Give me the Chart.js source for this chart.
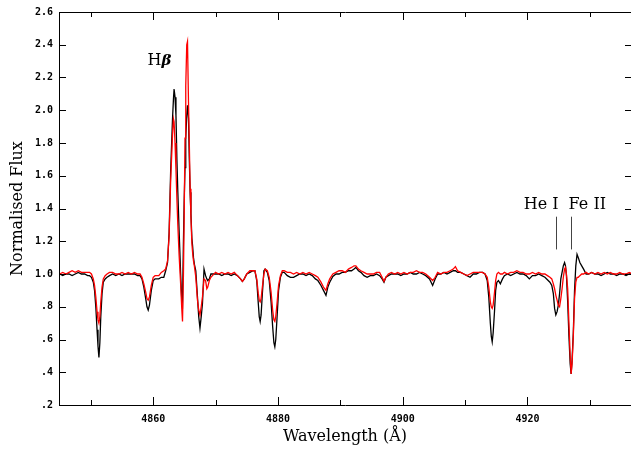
<!DOCTYPE html>
<html><head><meta charset="utf-8">
<script src="https://cdn.jsdelivr.net/npm/chart.js@4.4.1/dist/chart.umd.min.js"></script>
<style>html,body{margin:0;padding:0;background:#fff;overflow:hidden}canvas{display:block}</style>
</head><body>
<canvas id="c" width="631" height="449"></canvas>
<script>
// Wavelength grid (Å)
const wavelength = [
  4845.0,4845.5,4846.0,4846.5,4847.0,4847.5,4848.0,4848.5,4849.0,4849.5,
  4849.8,4850.1,4850.4,4850.6,4850.8,4851.0,4851.15,4851.3,4851.45,4851.6,4851.8,4852.0,4852.3,4852.6,4853.0,
  4853.5,4854.0,4854.5,4855.0,4855.5,4856.0,4856.5,4857.0,4857.5,
  4857.9,4858.2,4858.5,4858.8,4859.0,4859.2,4859.4,4859.7,4860.0,4860.3,4860.6,
  4860.9,4861.3,4861.7,4862.0,4862.3,4862.55,4862.8,4863.1,4863.25,4863.35,
  4863.5,4863.65,4863.8,4863.95,4864.15,4864.4,4864.58,4864.7,4864.85,4864.97,
  4865.1,4865.22,4865.38,4865.5,4865.66,4865.78,4865.92,4866.05,4866.2,4866.32,
  4866.46,4866.6,4866.83,4867.1,4867.3,4867.5,4867.7,4867.9,4868.15,4868.4,
  4868.6,4868.75,4869.0,4869.25,4869.5,4870.0,
  4870.5,4871.0,4871.5,4872.0,4872.5,4873.0,4873.5,4874.0,4874.3,4874.6,
  4875.0,4875.5,4876.0,4876.3,4876.6,4876.85,4877.0,4877.15,4877.3,4877.5,
  4877.75,4877.95,4878.3,4878.6,4878.9,4879.15,4879.35,4879.5,4879.65,4879.85,
  4880.1,4880.4,4880.7,4881.0,4881.5,4882.0,4882.5,4883.0,4883.5,4884.0,
  4884.5,4885.0,4885.5,4886.0,4886.4,4886.9,4887.3,4887.7,4888.0,4888.3,
  4888.8,4889.3,4889.8,4890.3,4890.8,4891.3,4891.8,4892.2,4892.5,4892.9,
  4893.3,4893.8,4894.3,4894.8,4895.3,4895.8,4896.3,4896.7,4897.0,4897.3,
  4897.7,4898.2,4898.7,4899.2,4899.7,4900.2,4900.7,4901.2,4901.7,4902.2,
  4902.7,4903.2,4903.7,4904.3,4904.8,4905.2,4905.6,4906.1,4906.6,4907.1,
  4907.6,4908.1,4908.45,4908.8,4909.3,4909.8,4910.3,4910.8,4911.3,4911.8,
  4912.3,4912.8,4913.2,4913.55,4913.8,4914.05,4914.2,4914.35,4914.5,4914.7,
  4914.9,4915.1,4915.35,4915.65,4916.0,4916.3,4916.8,4917.3,4917.8,4918.3,
  4918.8,4919.3,4919.8,4920.3,4920.8,4921.3,
  4921.8,4922.3,4922.8,4923.2,4923.6,4923.9,4924.15,4924.35,4924.55,4924.75,
  4924.95,4925.15,4925.35,4925.55,4925.75,4925.95,4926.1,4926.25,4926.45,4926.65,
  4926.85,4927.0,4927.15,4927.35,4927.55,4927.75,4927.95,4928.15,4928.4,4928.7,
  4929.0,4929.4,4929.8,
  4930.3,4930.8,4931.3,4931.8,4932.3,4932.8,4933.3,4933.8,4934.3,4934.8,4935.3,4935.8,4936.3,4936.8
];
// Black spectrum (normalised flux)
const fluxBlack = [
  1.00,0.99,1.00,1.00,0.99,1.00,1.01,1.00,1.00,0.99,
  0.99,0.98,0.95,0.90,0.80,0.66,0.56,0.49,0.58,0.74,0.88,0.95,0.97,0.98,0.99,
  1.00,0.99,1.00,0.99,1.00,1.00,1.00,1.00,0.99,
  0.99,0.97,0.92,0.85,0.80,0.78,0.81,0.90,0.96,0.97,0.97,
  0.97,0.98,0.98,1.02,1.07,1.25,1.63,1.95,2.07,2.13,
  2.08,1.97,1.70,1.50,1.27,1.00,0.84,0.82,1.20,1.45,
  1.65,1.83,1.97,2.03,1.95,1.72,1.50,1.37,1.22,1.17,
  1.10,1.06,1.02,0.86,0.74,0.67,0.74,0.82,1.03,0.99,
  0.97,0.96,0.97,1.00,1.00,1.00,
  1.00,0.99,1.00,1.00,0.99,1.00,0.99,0.97,0.955,0.97,
  1.00,1.01,1.02,1.02,0.96,0.82,0.74,0.71,0.75,0.88,
  1.02,1.03,1.01,0.96,0.83,0.68,0.58,0.555,0.60,0.73,
  0.90,0.98,1.01,1.01,0.99,0.98,0.98,0.99,1.00,1.00,
  0.99,1.00,0.99,0.97,0.96,0.93,0.90,0.87,0.92,0.95,
  0.985,1.00,1.00,1.01,1.01,1.02,1.02,1.03,1.04,1.02,
  1.01,0.99,0.98,0.99,0.99,1.00,0.99,0.97,0.95,0.98,
  0.99,1.00,1.00,1.00,0.99,1.00,1.00,1.01,1.00,1.00,
  1.01,1.00,0.99,0.97,0.93,0.97,1.00,1.00,1.01,1.00,
  1.01,1.02,1.02,1.01,1.01,1.00,0.99,0.98,1.00,1.00,
  1.01,1.01,1.00,0.96,0.86,0.70,0.62,0.585,0.64,0.76,
  0.90,0.95,0.96,0.94,0.97,0.99,1.00,0.99,1.00,1.01,
  1.00,1.00,0.99,0.97,0.99,0.99,
  1.00,0.99,0.98,0.965,0.95,0.93,0.88,0.79,0.75,0.77,
  0.81,0.88,0.97,1.01,1.05,1.07,1.05,0.99,0.83,0.62,
  0.45,0.39,0.47,0.64,0.90,1.05,1.12,1.10,1.07,1.05,
  1.03,1.00,1.00,
  1.01,1.00,1.00,0.99,1.00,1.01,1.00,1.00,0.99,1.00,1.00,0.99,1.00,1.00
];
// Red spectrum (normalised flux)
const fluxRed = [
  1.00,1.01,1.00,1.01,1.02,1.01,1.02,1.01,1.01,1.01,
  1.01,1.00,0.97,0.93,0.86,0.77,0.72,0.70,0.74,0.83,0.92,0.97,0.99,1.00,1.01,
  1.01,1.00,1.00,1.01,1.00,1.01,1.00,1.01,1.00,
  1.00,0.98,0.94,0.89,0.85,0.84,0.86,0.93,0.98,0.99,0.99,
  0.99,1.01,1.02,1.03,1.08,1.23,1.57,1.85,1.947,1.93,
  1.80,1.64,1.46,1.30,1.12,0.94,0.79,0.71,1.00,1.35,
  1.83,2.15,2.40,2.42,2.05,1.82,1.52,1.35,1.19,1.13,
  1.08,1.05,0.98,0.84,0.78,0.75,0.80,0.86,0.97,0.96,
  0.91,0.92,0.96,0.98,0.99,1.01,
  1.00,1.01,1.00,1.01,1.00,1.01,0.99,0.97,0.955,0.97,
  1.00,1.02,1.02,1.02,0.97,0.88,0.84,0.83,0.85,0.92,
  1.00,1.03,1.02,0.98,0.89,0.78,0.72,0.71,0.74,0.82,
  0.93,0.99,1.02,1.02,1.01,1.01,1.00,1.01,1.00,1.01,
  1.00,1.01,1.00,0.99,0.98,0.95,0.92,0.90,0.94,0.97,
  1.00,1.01,1.02,1.02,1.01,1.03,1.04,1.05,1.05,1.03,
  1.02,1.01,1.00,1.00,1.00,1.01,1.01,0.98,0.955,0.98,
  1.00,1.01,1.00,1.01,1.00,1.01,1.00,1.01,1.01,1.02,
  1.01,1.01,1.00,0.98,0.96,0.98,1.01,1.00,1.01,1.01,
  1.02,1.03,1.045,1.02,1.01,1.00,0.99,1.00,1.01,1.01,
  1.01,1.01,1.00,0.98,0.92,0.83,0.80,0.79,0.81,0.88,
  0.96,1.00,1.01,1.00,1.00,1.01,1.00,1.01,1.01,1.02,
  1.01,1.01,1.00,1.00,1.01,1.00,
  1.01,1.00,1.00,0.99,0.98,0.97,0.94,0.91,0.87,0.84,
  0.81,0.80,0.85,0.91,0.98,1.03,1.04,1.00,0.91,0.70,
  0.50,0.39,0.45,0.62,0.85,0.95,0.98,0.98,0.99,1.00,
  1.00,1.01,1.00,
  1.01,1.00,1.01,1.00,1.01,1.00,1.01,1.00,1.00,1.01,1.00,1.00,1.01,1.00
];
// Axis ticks
const xTickValues = [4850,4860,4870,4880,4890,4900,4910,4920,4930];
const xTickLabels = ['','4860','','4880','','4900','','4920',''];
const yTickValues = [0.2,0.4,0.6,0.8,1.0,1.2,1.4,1.6,1.8,2.0,2.2,2.4,2.6];
const yTickLabels = ['.2','.4','.6','.8','1.0','1.2','1.4','1.6','1.8','2.0','2.2','2.4','2.6'];
// Line identifications
const lineLabels = ['He I','Fe II'];
const lineLabelWave = [4922.2,4929.6];
const lineMarkWave = [4924.6,4927.0];

const X_MIN = 4844.9, X_MAX = 4936.6, Y_MIN = 0.2, Y_MAX = 2.6;

const framePlugin = {
  id: 'framePlugin',
  afterDraw(chart) {
    const {ctx, chartArea: a, scales: {x, y}} = chart;
    ctx.save();
    ctx.strokeStyle = '#000';
    ctx.lineWidth = 1;
    ctx.beginPath();
    ctx.moveTo(a.left + 0.5, a.top + 0.5);
    ctx.lineTo(a.left + 0.5, a.bottom + 0.5);
    ctx.lineTo(a.right + 0.5, a.bottom + 0.5);
    ctx.lineTo(a.right + 0.5, a.top + 0.5);
    ctx.closePath();
    ctx.stroke();
    ctx.beginPath();
    xTickValues.forEach((v, i) => {
      const px = Math.round(x.getPixelForValue(v)) + 0.5;
      const len = xTickLabels[i] ? 8 : 5;
      ctx.moveTo(px, a.bottom); ctx.lineTo(px, a.bottom - len);
      ctx.moveTo(px, a.top); ctx.lineTo(px, a.top + len);
    });
    yTickValues.forEach(v => {
      const py = Math.round(y.getPixelForValue(v)) + 0.5;
      ctx.moveTo(a.left, py); ctx.lineTo(a.left + 7, py);
      ctx.moveTo(a.right, py); ctx.lineTo(a.right - 6, py);
    });
    ctx.stroke();
    // line identification marks
    ctx.beginPath();
    ctx.strokeStyle = '#444';
    lineMarkWave.forEach(w => {
      const px = Math.round(x.getPixelForValue(w)) + 0.5;
      ctx.moveTo(px, y.getPixelForValue(1.35));
      ctx.lineTo(px, y.getPixelForValue(1.15));
    });
    ctx.stroke();
    ctx.fillStyle = '#000';
    ctx.textBaseline = 'middle';
    ctx.textAlign = 'center';
    ctx.font = '16px "DejaVu Serif"';
    lineLabels.forEach((t, i) => {
      ctx.fillText(t, x.getPixelForValue(lineLabelWave[i]), y.getPixelForValue(1.425));
    });
    // H-beta label
    const cx = x.getPixelForValue(4861.0), cy = y.getPixelForValue(2.30);
    ctx.textAlign = 'left';
    ctx.font = '16px "DejaVu Serif"';
    const wH = ctx.measureText('H').width;
    ctx.font = 'italic bold 15px "DejaVu Serif"';
    const wB = ctx.measureText('\u03B2').width;
    const sx = cx - (wH + wB) / 2;
    ctx.font = '16px "DejaVu Serif"';
    ctx.fillText('H', sx, cy);
    ctx.font = 'italic bold 15px "DejaVu Serif"';
    ctx.fillText('\u03B2', sx + wH, cy);
    ctx.restore();
  }
};

new Chart(document.getElementById('c'), {
  type: 'scatter',
  data: {
    datasets: [
      {
        label: 'red',
        data: wavelength.map((w, i) => ({x: w, y: fluxRed[i]})),
        showLine: true, borderColor: '#ff0000', borderWidth: 1.3,
        pointRadius: 0, tension: 0, order: 0
      },
      {
        label: 'black',
        data: wavelength.map((w, i) => ({x: w, y: fluxBlack[i]})),
        showLine: true, borderColor: '#000000', borderWidth: 1.3,
        pointRadius: 0, tension: 0, order: 1
      }
    ]
  },
  options: {
    responsive: false,
    animation: false,
    devicePixelRatio: 1,
    layout: {padding: {top: 11, right: 0, left: 0, bottom: 0}},
    plugins: {legend: {display: false}, tooltip: {enabled: false}},
    scales: {
      x: {
        type: 'linear', min: X_MIN, max: X_MAX,
        afterBuildTicks: s => { s.ticks = xTickValues.map(v => ({value: v})); },
        afterFit: s => { s.height = 44; },
        grid: {display: false, drawTicks: false},
        border: {display: false},
        ticks: {
          autoSkip: false, maxRotation: 0, padding: 8, color: '#000',
          font: {family: 'DejaVu Sans Mono', weight: 'bold', size: 10},
          callback: (v, i) => xTickLabels[i]
        },
        title: {
          display: true, text: 'Wavelength (\u00C5)', color: '#000',
          font: {family: 'DejaVu Serif', size: 16}, padding: {top: 0, bottom: 3}
        }
      },
      y: {
        type: 'linear', min: Y_MIN, max: Y_MAX,
        afterBuildTicks: s => { s.ticks = yTickValues.map(v => ({value: v})); },
        afterFit: s => { s.width = 59; },
        grid: {display: false, drawTicks: false},
        border: {display: false},
        ticks: {
          autoSkip: false, padding: 6, color: '#000',
          font: {family: 'DejaVu Sans Mono', weight: 'bold', size: 10},
          callback: (v, i) => yTickLabels[i]
        },
        title: {
          display: true, text: 'Normalised Flux', color: '#000',
          font: {family: 'DejaVu Serif', size: 16}, padding: {top: 8, bottom: 0}
        }
      }
    }
  },
  plugins: [framePlugin]
});
</script>
</body></html>
